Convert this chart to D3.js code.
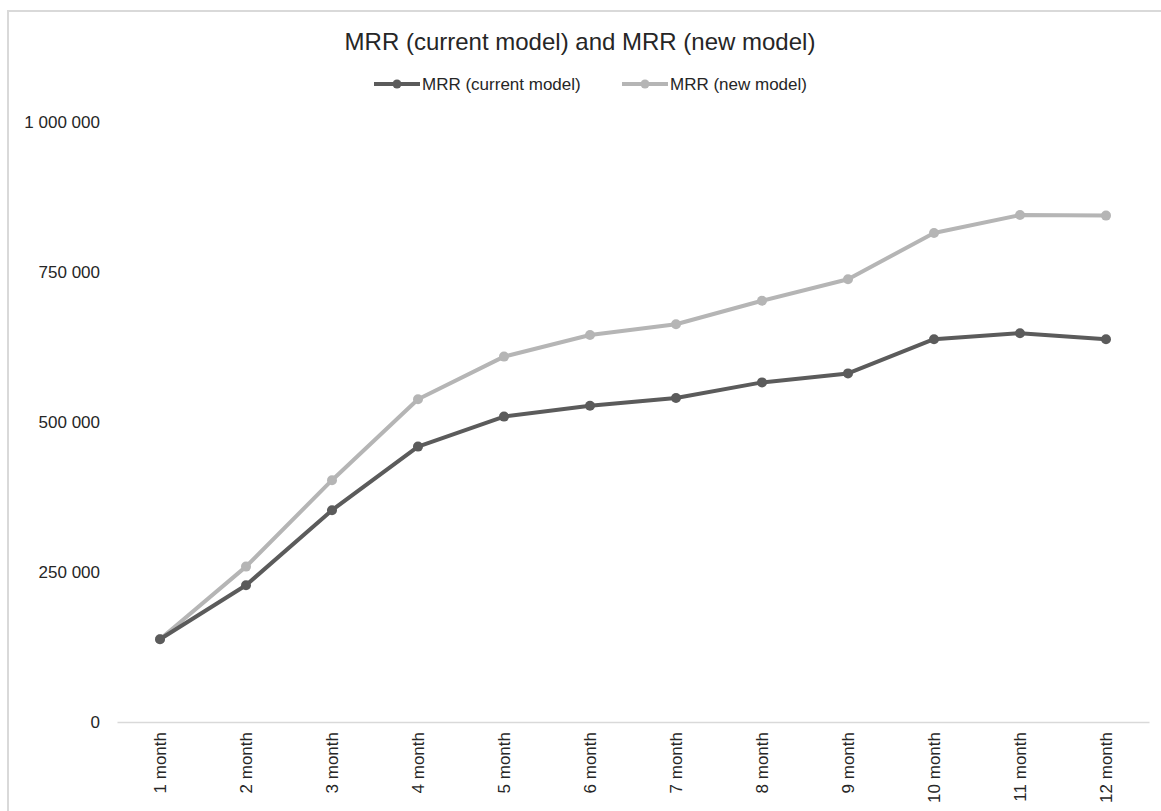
<!DOCTYPE html>
<html><head><meta charset="utf-8">
<script src="https://cdn.jsdelivr.net/npm/d3@7"></script>
<style>body{margin:0;background:#fff}svg{display:block}text{font-family:"Liberation Sans",Arial,sans-serif}</style>
</head><body><svg id="c" width="1161" height="811"></svg>
<script>
const categories = ["1 month","2 month","3 month","4 month","5 month","6 month","7 month","8 month","9 month","10 month","11 month","12 month"];
const currentModel = [138000,228000,353000,459000,509000,527000,540000,566000,581000,638000,648000,638000];
const newModel = [138000,259000,403000,538000,609000,645000,663000,702000,738000,815000,845000,844000];
const yTicks = [0,250000,500000,750000,1000000];
const seriesNames = ["MRR (current model)","MRR (new model)"];
const colors = ["#5b5b5b","#b5b5b5"];

const svg = d3.select("#c");
svg.append("rect").attr("x",8).attr("y",11).attr("width",1200).attr("height",900)
  .attr("fill","#fff").attr("stroke","#d9d9d9").attr("stroke-width",2);

const x = d3.scaleBand().domain(categories).range([117,1149]);
const y = d3.scaleLinear().domain([0,1000000]).range([722,122]);
const fmt = v => d3.format(",")(v).replace(/,/g," ");

// y labels
svg.append("g").selectAll("text").data(yTicks).join("text")
  .attr("x",100).attr("y",d=>y(d)).attr("dy","0.35em").attr("text-anchor","end")
  .attr("font-size",17).attr("fill","#262626").text(fmt);

// x axis
const xa = svg.append("g").attr("transform","translate(0,722)")
  .call(d3.axisBottom(x).tickSize(0).tickPadding(0));
xa.select(".domain").attr("stroke","#d9d9d9").attr("stroke-width",1.5);
xa.selectAll(".tick text").attr("transform","rotate(-90)").attr("text-anchor","end")
  .attr("x",-10).attr("y",0).attr("dy","0.35em").attr("font-size",17).attr("fill","#262626")
  .style("font-family",'"Liberation Sans",Arial,sans-serif');

const line = d3.line().x((d,i)=>x(categories[i])+x.bandwidth()/2).y(d=>y(d));
[newModel,currentModel].forEach((s,k)=>{
  const c = k===0?colors[1]:colors[0];
  svg.append("path").datum(s).attr("d",line).attr("fill","none").attr("stroke",c)
    .attr("stroke-width",4).attr("stroke-linejoin","round");
  svg.append("g").selectAll("circle").data(s).join("circle")
    .attr("cx",(d,i)=>x(categories[i])+x.bandwidth()/2).attr("cy",d=>y(d)).attr("r",5).attr("fill",c);
});

// title
svg.append("text").attr("x",580).attr("y",50).attr("text-anchor","middle")
  .attr("font-size",24).attr("fill","#262626").text("MRR (current model) and MRR (new model)");

// legend
const legX = [374,622];
seriesNames.forEach((n,i)=>{
  const g = svg.append("g");
  g.append("line").attr("x1",legX[i]).attr("x2",legX[i]+46).attr("y1",84).attr("y2",84)
    .attr("stroke",colors[i]).attr("stroke-width",4);
  g.append("circle").attr("cx",legX[i]+23).attr("cy",84).attr("r",4.5).attr("fill",colors[i]);
  g.append("text").attr("x",legX[i]+48).attr("y",84).attr("dy","0.35em").attr("font-size",17)
    .attr("fill","#262626").text(n);
});
</script></body></html>
